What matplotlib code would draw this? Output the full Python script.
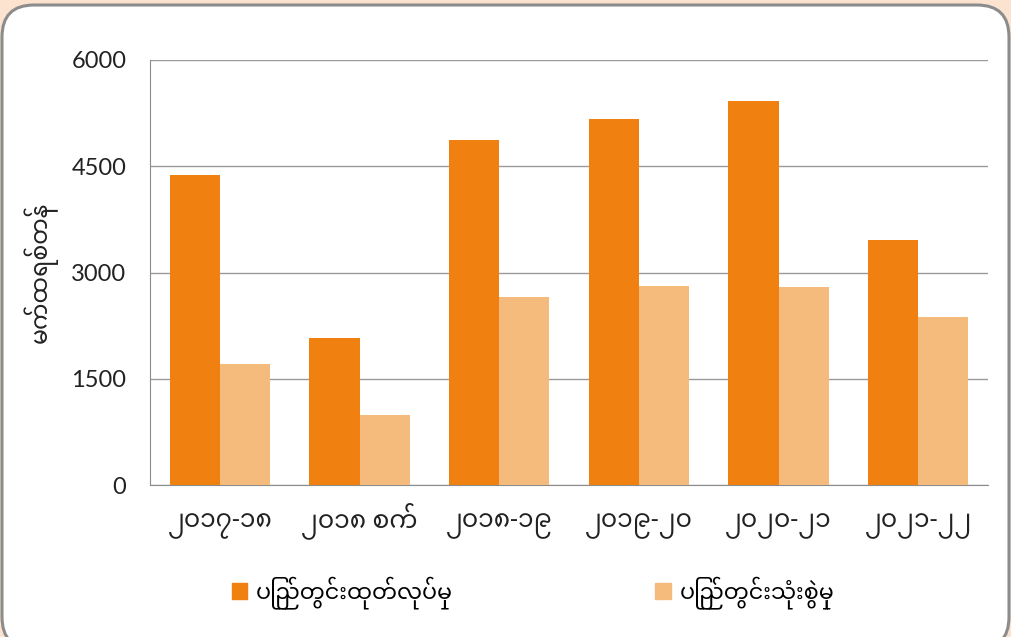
import matplotlib
matplotlib.use("Agg")
import matplotlib.pyplot as plt
import numpy as np
from matplotlib import font_manager
from matplotlib.patches import FancyBboxPatch, Rectangle

categories = ["၂၀၁၇-၁၈", "၂၀၁၈ စက်", "၂၀၁၈-၁၉", "၂၀၁၉-၂၀", "၂၀၂၀-၂၁", "၂၀၂၁-၂၂"]
production = [4380, 2080, 4870, 5170, 5420, 3460]
consumption = [1710, 990, 2650, 2810, 2800, 2370]
series_names = ["ပြည်တွင်းထုတ်လုပ်မှု", "ပြည်တွင်းသုံးစွဲမှု"]
y_label = "မက်ထရစ်တန်"
y_ticks = [0, 1500, 3000, 4500, 6000]

# register the regular Noto Sans Myanmar file so the right weight is used
mm_family = "DejaVu Sans"
for path in font_manager.findSystemFonts():
    name = path.split("/")[-1]
    if name.startswith("NotoSansMyanmar[") or name == "NotoSansMyanmar-Regular.ttf":
        font_manager.fontManager.addfont(path)
        mm_family = font_manager.FontProperties(fname=path).get_name()
        break

plt.rcParams["font.family"] = [mm_family, "DejaVu Sans"]
num_font = ["Lato", "DejaVu Sans"]

W, H = 1011, 637
fig = plt.figure(figsize=(W / 100, H / 100), dpi=100)
fig.patch.set_facecolor("#FCE3CF")

# white rounded card behind the chart (inch coordinates keep corners round)
card = FancyBboxPatch((0.02, -0.12), 10.07, 6.44,
                      boxstyle="round,pad=0,rounding_size=0.32",
                      transform=fig.dpi_scale_trans, facecolor="white",
                      edgecolor="#8C8C8C", linewidth=2.2, zorder=-5)
fig.patches.append(card)

ax = fig.add_axes([150 / W, 1 - 485 / H, 838 / W, 425 / H])
ax.set_facecolor("none")

x = np.arange(len(categories))
bw = 0.36
ax.bar(x - bw / 2, production, bw, color="#F0800F", zorder=3)
ax.bar(x + bw / 2, consumption, bw, color="#F5BB7D", zorder=3)

ax.set_xlim(-0.5, len(categories) - 0.5)
ax.set_ylim(0, 6000)
ax.set_yticks(y_ticks)
ax.set_yticklabels([str(v) for v in y_ticks], fontsize=17, color="#222222",
                   family=num_font)
ax.yaxis.grid(True, color="#9A9A9A", linewidth=1, zorder=0)
ax.tick_params(axis="y", length=0, pad=17)
ax.set_xticks(x)
ax.set_xticklabels(categories, fontsize=18, color="#222222", va="baseline")
ax.tick_params(axis="x", length=0, pad=30)

for side in ["top", "right"]:
    ax.spines[side].set_visible(False)
for side in ["left", "bottom"]:
    ax.spines[side].set_color("#8C8C8C")

ax.set_ylabel(y_label, fontsize=17, color="#222222", labelpad=10)

handles = [Rectangle((0, 0), 1, 1, color="#F0800F"),
           Rectangle((0, 0), 1, 1, color="#F5BB7D")]
fig.legend(handles, series_names, loc="center", bbox_to_anchor=(533 / W, 1 - 593 / H),
           ncol=2, frameon=False, fontsize=16, handlelength=0.7, handleheight=0.7,
           handletextpad=0.4, columnspacing=9.1)

fig.savefig("out.png", dpi=100, facecolor=fig.get_facecolor())
